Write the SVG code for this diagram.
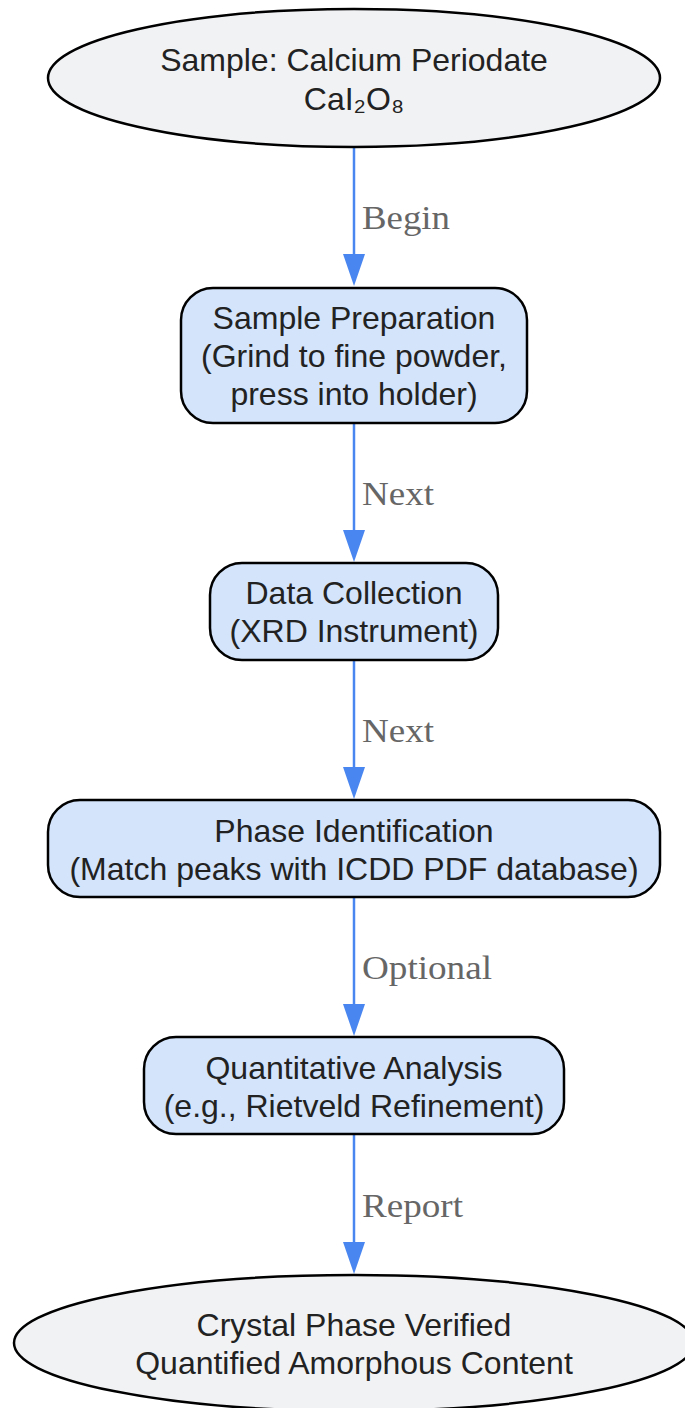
<svg xmlns="http://www.w3.org/2000/svg" width="685" height="1408" viewBox="0 0 685 1408">
<style>
.term{fill:#f1f2f4;stroke:#000;stroke-width:2.5}
.proc{fill:#d3e4fb;stroke:#000;stroke-width:2.5}
.t{font-family:"Liberation Sans",Arial,sans-serif;font-size:32px;fill:#222;text-anchor:middle}
.lbl{font-family:"Liberation Serif","Times New Roman",serif;font-size:33px;fill:#666}
.edge{stroke:#4a86f0;stroke-width:2.5;fill:none}
.ah{fill:#4a86f0}
</style>
<g id="connectors">
<line class="edge" x1="354" y1="148" x2="354" y2="254"/><path class="ah" d="M343,254 L365,254 L354,286 Z"/>
<text class="lbl" x="362" y="229" textLength="88" lengthAdjust="spacingAndGlyphs">Begin</text>
<line class="edge" x1="354" y1="424" x2="354" y2="530"/><path class="ah" d="M343,530 L365,530 L354,562 Z"/>
<text class="lbl" x="362" y="505" textLength="72" lengthAdjust="spacingAndGlyphs">Next</text>
<line class="edge" x1="354" y1="661" x2="354" y2="767"/><path class="ah" d="M343,767 L365,767 L354,799 Z"/>
<text class="lbl" x="362" y="742" textLength="72" lengthAdjust="spacingAndGlyphs">Next</text>
<line class="edge" x1="354" y1="898" x2="354" y2="1004"/><path class="ah" d="M343,1004 L365,1004 L354,1036 Z"/>
<text class="lbl" x="362" y="979" textLength="130" lengthAdjust="spacingAndGlyphs">Optional</text>
<line class="edge" x1="354" y1="1135" x2="354" y2="1242"/><path class="ah" d="M343,1242 L365,1242 L354,1274 Z"/>
<text class="lbl" x="362" y="1217" textLength="101" lengthAdjust="spacingAndGlyphs">Report</text>
</g>
<g id="start">
<ellipse class="term" cx="354" cy="78" rx="306" ry="69"/>
<text class="t" x="354" y="71">Sample: Calcium Periodate</text>
<text class="t" x="354" y="110">CaI₂O₈</text>
</g>
<g id="prep">
<rect class="proc" x="181" y="288" width="346" height="135" rx="32"/>
<text class="t" x="354" y="329">Sample Preparation</text>
<text class="t" x="354" y="367">(Grind to fine powder,</text>
<text class="t" x="354" y="405">press into holder)</text>
</g>
<g id="collect">
<rect class="proc" x="210" y="563" width="288" height="97" rx="32"/>
<text class="t" x="354" y="604">Data Collection</text>
<text class="t" x="354" y="642">(XRD Instrument)</text>
</g>
<g id="phase">
<rect class="proc" x="48" y="800" width="612" height="97" rx="32"/>
<text class="t" x="354" y="842">Phase Identification</text>
<text class="t" x="354" y="880">(Match peaks with ICDD PDF database)</text>
</g>
<g id="quant">
<rect class="proc" x="144" y="1037" width="420" height="97" rx="32"/>
<text class="t" x="354" y="1079">Quantitative Analysis</text>
<text class="t" x="354" y="1117">(e.g., Rietveld Refinement)</text>
</g>
<g id="end">
<ellipse class="term" cx="354" cy="1343" rx="340" ry="68"/>
<text class="t" x="354" y="1336">Crystal Phase Verified</text>
<text class="t" x="354" y="1374">Quantified Amorphous Content</text>
</g>
</svg>
